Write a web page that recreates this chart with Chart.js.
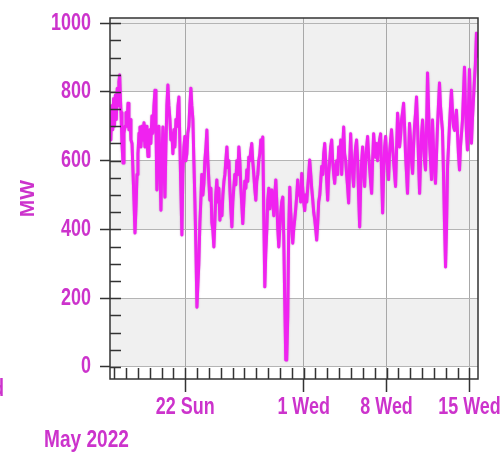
<!DOCTYPE html>
<html>
<head>
<meta charset="utf-8">
<script src="https://cdn.jsdelivr.net/npm/chart.js@4.4.1/dist/chart.umd.min.js"></script>
<style>
  html, body { margin: 0; padding: 0; background: #fff; }
  canvas { display: block; }
</style>
</head>
<body>
<canvas id="load" width="503" height="454"></canvas>
<script>
// Time axis: day counted from 1 May 2022 (so 1 June = 32).
const dayOfMay = [
  15.65, 15.72, 15.80, 15.88, 15.95, 16.03, 16.10, 16.18, 16.26, 16.33,
  16.40, 16.47, 16.53, 16.58, 16.66, 16.75, 16.83, 16.92, 17.00, 17.08,
  17.17, 17.25, 17.34, 17.42, 17.51, 17.60, 17.68, 17.76, 17.85, 17.93,
  18.01, 18.10, 18.18, 18.26, 18.35, 18.43, 18.52, 18.60, 18.69, 18.77,
  18.86, 18.94, 19.02, 19.10, 19.19, 19.27, 19.36, 19.45, 19.53, 19.61,
  19.70, 19.78, 19.86, 19.95, 20.03, 20.12, 20.20, 20.29, 20.37, 20.45,
  20.54, 20.62, 20.71, 20.79, 20.88, 20.96, 21.05, 21.13, 21.22, 21.30,
  21.39, 21.47, 21.55, 21.63, 21.72, 21.80, 21.89, 21.97, 22.05, 22.14,
  22.22, 22.31, 22.39, 22.48, 22.56, 22.65, 22.73, 22.82, 22.90, 22.99,
  23.07, 23.15, 23.24, 23.32, 23.40, 23.49, 23.58, 23.66, 23.75, 23.83,
  23.91, 24.00, 24.08, 24.17, 24.25, 24.33, 24.42, 24.50, 24.58, 24.67,
  24.75, 24.84, 24.93, 25.01, 25.10, 25.18, 25.27, 25.35, 25.43, 25.52,
  25.60, 25.69, 25.77, 25.85, 25.94, 26.02, 26.10, 26.19, 26.27, 26.36,
  26.44, 26.53, 26.61, 26.70, 26.78, 26.86, 26.95, 27.03, 27.12, 27.20,
  27.28, 27.37, 27.45, 27.54, 27.62, 27.70, 27.79, 27.87, 27.96, 28.04,
  28.13, 28.21, 28.30, 28.38, 28.46, 28.55, 28.63, 28.72, 28.80, 28.89,
  28.97, 29.06, 29.14, 29.22, 29.31, 29.39, 29.48, 29.56, 29.65, 29.73,
  29.82, 29.90, 29.98, 30.07, 30.15, 30.24, 30.32, 30.40, 30.49, 30.57,
  30.66, 30.74, 30.83, 30.91, 31.00, 31.08, 31.16, 31.25, 31.33, 31.42,
  31.50, 31.58, 31.67, 31.75, 31.84, 31.92, 32.00, 32.09, 32.17, 32.26,
  32.34, 32.43, 32.51, 32.60, 32.68, 32.77, 32.85, 32.93, 33.02, 33.10,
  33.19, 33.27, 33.36, 33.44, 33.52, 33.61, 33.69, 33.78, 33.86, 33.95,
  34.03, 34.11, 34.20, 34.28, 34.37, 34.45, 34.54, 34.62, 34.70, 34.79,
  34.87, 34.96, 35.04, 35.13, 35.21, 35.30, 35.38, 35.46, 35.55, 35.63,
  35.72, 35.80, 35.89, 35.97, 36.05, 36.14, 36.22, 36.30, 36.39, 36.47,
  36.56, 36.64, 36.73, 36.81, 36.90, 36.98, 37.06, 37.15, 37.23, 37.32,
  37.40, 37.48, 37.57, 37.65, 37.74, 37.82, 37.91, 37.99, 38.08, 38.16,
  38.24, 38.33, 38.41, 38.50, 38.58, 38.67, 38.75, 38.84, 38.92, 39.00,
  39.09, 39.17, 39.25, 39.34, 39.42, 39.51, 39.59, 39.68, 39.76, 39.85,
  39.93, 40.01, 40.10, 40.18, 40.27, 40.35, 40.44, 40.52, 40.60, 40.69,
  40.77, 40.86, 40.94, 41.03, 41.11, 41.20, 41.28, 41.36, 41.45, 41.53,
  41.62, 41.70, 41.79, 41.87, 41.96, 42.04, 42.13, 42.21, 42.29, 42.38,
  42.46, 42.54, 42.63, 42.71, 42.80, 42.88, 42.96, 43.05, 43.13, 43.22,
  43.30, 43.38, 43.47, 43.55, 43.64, 43.72, 43.81, 43.89, 43.98, 44.06,
  44.15, 44.23, 44.31, 44.40, 44.48, 44.57, 44.65, 44.74, 44.82, 44.90,
  44.99, 45.07, 45.16, 45.24, 45.33, 45.41, 45.50, 45.58, 45.66, 45.75,
  45.83, 45.92, 46.00, 46.08, 46.17, 46.25, 46.34, 46.42, 46.50, 46.59,
  46.66, 46.72
];

// Load in MW at each time above.
const loadMW = [
  740, 660, 760, 690, 780, 700, 790, 720, 810, 760,
  830, 849, 780, 740, 650, 593, 680, 700, 740, 700,
  767, 690, 720, 660, 650, 560, 480, 390, 470, 560,
  620, 680, 698, 640, 700, 660, 710, 640, 700, 660,
  612, 680, 690, 650, 730, 680, 760, 805, 700, 515,
  640, 700, 600, 456, 600, 698, 600, 494, 640, 760,
  820, 760, 720, 660, 680, 620, 690, 640, 720, 700,
  760, 785, 650, 520, 384, 560, 640, 670, 600, 620,
  680, 700, 760, 811, 760, 720, 602, 480, 350, 174,
  240, 300, 420, 485, 560, 500, 533, 600, 640, 689,
  600, 540, 485, 520, 420, 400, 349, 420, 500, 544,
  480, 520, 427, 480, 440, 500, 540, 560, 600, 640,
  580, 600, 520, 460, 407, 480, 520, 560, 530, 600,
  560, 640, 600, 520, 470, 417, 480, 540, 520, 573,
  540, 610, 600, 630, 650, 600, 560, 520, 485, 540,
  560, 600, 620, 660, 640, 669, 450, 233, 330, 400,
  485, 520, 460, 500, 515, 480, 440, 500, 544, 480,
  400, 349, 400, 450, 480, 494, 380, 200, 20, 20,
  150, 400, 523, 450, 400, 360, 400, 430, 460, 500,
  544, 500, 520, 480, 563, 520, 480, 455, 500, 480,
  520, 560, 602, 560, 520, 485, 450, 430, 400, 369,
  420, 480, 500, 540, 583, 560, 620, 650, 600, 540,
  485, 560, 600, 640, 660, 600, 560, 534, 580, 600,
  560, 640, 600, 660, 560, 640, 698, 620, 600, 560,
  520, 477, 600, 678, 600, 560, 525, 600, 640, 660,
  600, 500, 407, 520, 600, 640, 580, 525, 600, 640,
  670, 620, 580, 540, 505, 600, 678, 640, 610, 650,
  600, 640, 660, 678, 560, 448, 560, 640, 670, 620,
  580, 545, 620, 660, 690, 640, 600, 560, 525, 640,
  738, 700, 640, 670, 720, 740, 767, 700, 620, 560,
  505, 620, 708, 660, 600, 563, 640, 700, 740, 785,
  700, 600, 505, 600, 680, 718, 660, 600, 573, 700,
  855, 760, 650, 600, 545, 718, 640, 580, 534, 620,
  700, 760, 826, 760, 720, 688, 560, 420, 291, 400,
  583, 640, 700, 760, 805, 740, 700, 688, 720, 747,
  680, 620, 573, 640, 680, 718, 800, 872, 760, 680,
  631, 760, 865, 760, 651, 720, 780, 835, 880, 971,
  940, 900
];

const majorDays = [22, 32, 39, 46];
const majorLabels = ['22 Sun', '1 Wed', '8 Wed', '15 Wed'];
const minorDays = [16, 17, 18, 19, 20, 21, 22, 23, 24, 25, 26, 27, 28, 29, 30, 31,
                   32, 33, 34, 35, 36, 37, 38, 39, 40, 41, 42, 43, 44, 45, 46];
const mwTicks = [0, 200, 400, 600, 800, 1000];
const mwMinorTicks = [0, 50, 100, 150, 200, 250, 300, 350, 400, 450, 500,
                      550, 600, 650, 700, 750, 800, 850, 900, 950, 1000];
const shadedBands = [[0, 200], [400, 600], [800, 1100]];

const INK = '#cc33cc';
const LABEL_FONT = "bold 23px 'Liberation Sans', Arial, sans-serif";
const SQUEEZE = 0.78;   // horizontal condensing of the label lettering

function condensedText(ctx, text, x, y, align, squeeze) {
  ctx.save();
  ctx.translate(x, y);
  ctx.scale(squeeze || SQUEEZE, 1);
  ctx.textAlign = align;
  ctx.fillText(text, 0, 0);
  ctx.restore();
}

const decorations = {
  id: 'decorations',
  beforeDraw(chart) {
    const { ctx, chartArea: a, scales: { y } } = chart;
    ctx.save();
    ctx.fillStyle = '#ffffff';
    ctx.fillRect(0, 0, chart.width, chart.height);
    ctx.fillStyle = '#f0f0f0';
    shadedBands.forEach(([lo, hi]) => {
      const top = Math.max(a.top, y.getPixelForValue(hi));
      const bot = Math.min(a.bottom, y.getPixelForValue(lo));
      ctx.fillRect(a.left, top, a.right - a.left, bot - top);
    });
    ctx.restore();
  },
  beforeDatasetsDraw(chart) {
    // soft purple fringe around the trace
    const { ctx } = chart;
    ctx.save();
    ctx.shadowColor = 'rgba(150, 40, 150, 0.55)';
    ctx.shadowBlur = 1.5;
  },
  afterDatasetsDraw(chart) {
    const { ctx, chartArea: a, scales: { x, y } } = chart;
    ctx.restore();
    ctx.save();
    ctx.strokeStyle = '#333333';
    ctx.lineWidth = 1.5;
    ctx.beginPath();
    mwMinorTicks.forEach(v => {
      const py = Math.round(y.getPixelForValue(v)) + 0.5;
      ctx.moveTo(a.left, py);
      ctx.lineTo(a.left + 11, py);
    });
    minorDays.forEach(d => {
      const px = Math.round(x.getPixelForValue(d)) + 0.5;
      ctx.moveTo(px, a.bottom);
      ctx.lineTo(px, a.bottom - 11);
    });
    ctx.stroke();
    ctx.strokeRect(a.left, a.top, a.right - a.left, a.bottom - a.top);
    ctx.restore();
  },
  afterDraw(chart) {
    const { ctx, scales: { x, y } } = chart;
    ctx.save();
    ctx.fillStyle = INK;
    ctx.font = LABEL_FONT;
    ctx.textBaseline = 'middle';
    // value labels on the MW axis
    y.ticks.forEach(t => {
      condensedText(ctx, String(t.value), y.right - 19, y.getPixelForValue(t.value), 'right');
    });
    // day labels on the time axis
    x.ticks.forEach(t => {
      condensedText(ctx, majorLabels[majorDays.indexOf(t.value)], x.getPixelForValue(t.value), x.top + 29, 'center');
    });
    condensedText(ctx, 'May 2022', 44, 441, 'left', 0.83);
    condensedText(ctx, 'Wed', 4, 390, 'right');
    ctx.restore();
  }
};

new Chart(document.getElementById('load'), {
  type: 'line',
  data: {
    datasets: [{
      label: 'MW',
      data: dayOfMay.map((d, i) => ({ x: d, y: loadMW[i] })),
      borderColor: '#f022f0',
      borderWidth: 3,
      borderJoinStyle: 'round',
      pointRadius: 0,
      tension: 0,
      fill: false
    }]
  },
  options: {
    responsive: false,
    animation: false,
    layout: { padding: { top: 18, right: 25, left: 0, bottom: 0 } },
    plugins: { legend: { display: false }, tooltip: { enabled: false } },
    scales: {
      x: {
        type: 'linear',
        min: 15.65,
        max: 46.72,
        afterBuildTicks: s => { s.ticks = majorDays.map(v => ({ value: v })); },
        afterFit: s => { s.height = 75; },
        grid: { color: '#a8a8a8', lineWidth: 1, tickLength: 13, tickColor: '#333333', tickWidth: 1.5 },
        border: { display: false },
        ticks: { display: false, autoSkip: false, maxRotation: 0 }
      },
      y: {
        min: -35,
        max: 1015,
        afterBuildTicks: s => { s.ticks = mwTicks.map(v => ({ value: v })); },
        afterFit: s => { s.width = 110; },
        grid: { color: '#b4b4b4', lineWidth: 1, tickLength: 10, tickColor: '#333333', tickWidth: 1.5 },
        border: { display: false },
        ticks: { display: false },
        title: {
          display: true,
          text: 'MW',
          color: INK,
          padding: { top: 16 },
          font: { family: "'Liberation Sans', Arial, sans-serif", size: 21, weight: 'bold' }
        }
      }
    }
  },
  plugins: [decorations]
});
</script>
</body>
</html>
